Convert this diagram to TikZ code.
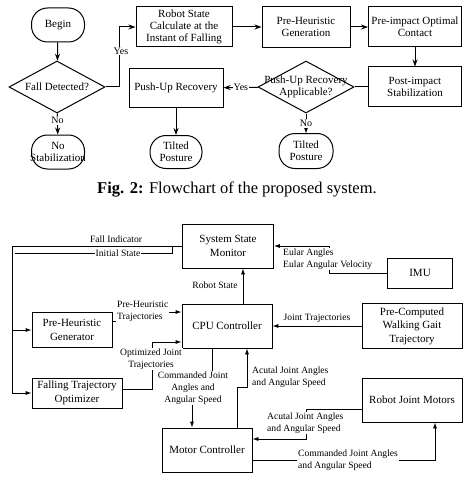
\documentclass[tikz,border=0pt]{standalone}
\usepackage{fontspec}
\setmainfont{Liberation Serif}
\usetikzlibrary{shapes.geometric,arrows.meta,positioning}

\begin{document}
\begin{tikzpicture}[x=1pt,y=-1pt,
		box/.style={draw, line width=1pt, align=center, inner sep=1pt, font=\myfontbox},
		term/.style={box, rounded corners=16pt, minimum width=53pt, minimum height=34pt},
		flowbox/.style={box, minimum width=94pt, minimum height=40pt},
		decision/.style={draw, diamond, line width=1pt, inner sep=0pt, aspect=2, minimum width=96pt, minimum height=52pt, font=\myfontbox},
		flow/.style={line width=1pt, -{Stealth[length=7pt,width=5pt]}},
		flowlbl/.style={fill=white, inner sep=1pt, font=\myfontflow},
		block/.style={draw, line width=0.8pt, align=center, inner sep=1pt, font=\myfontblock},
		sig/.style={line width=0.8pt, -{Latex[length=6pt,width=4pt]}},
		lbl/.style={fill=white, inner sep=1pt, align=center, font=\myfontlabel},
		]
		\newcommand{\myfontbox}{\fontsize{11}{12}\selectfont}
		\newcommand{\myfontflow}{\fontsize{10}{12}\selectfont}
		\newcommand{\myfontblock}{\fontsize{11}{13.5}\selectfont}
		\newcommand{\myfontlabel}{\fontsize{9.6}{11.8}\selectfont}
		\useasboundingbox (0,0) rectangle (475,484);
		%Flowchart
		\node[term] (begin) at (58,25) {Begin};
		\node[decision] (fall) at (57,87) {Fall Detected?};
		\node[term, inner xsep=-3pt] (nostab) at (58,152) {No\\Stabilization};
		\node[flowbox, minimum width=96pt] (robot) at (184,27) {Robot State\\Calculate at the\\Instant of Falling};
		\node[flowbox, minimum width=88pt, minimum height=41pt] (preh) at (306,27) {Pre-Heuristic\\Generation};
		\node[flowbox, minimum width=93pt] (preimp) at (415,27) {Pre-impact Optimal\\Contact};
		\node[flowbox, minimum width=93pt] (post) at (415,87) {Post-impact\\Stabilization};
		\node[decision] (pushq) at (306,87) {};
		\node[inner sep=0pt, align=center, font=\myfontbox] (pushqtxt) at (pushq) {Push-Up Recovery\\Applicable?};
		\node[flowbox, minimum height=39pt] (pushup) at (176,88) {Push-Up Recovery};
		\node[term, minimum width=52pt, minimum height=33pt] (tilt1) at (176,152) {Tilted\\Posture};
		\node[term, minimum width=54pt, minimum height=35pt] (tilt2) at (306,151) {Tilted\\Posture};
		%Flowchart arrows
		\coordinate (yesbend) at (119,87);
		\draw[flow] (begin) -- (fall);
		\draw[flow] (fall.east) -- (yesbend) |- (robot.west);
		\node[flowlbl] (yes1) at (121,51) {Yes};
		\draw[flow] (fall) -- node[flowlbl, pos=0.35] (no1) {No} (nostab);
		\draw[flow] (robot) -- (preh);
		\draw[flow] (preh) -- (preimp);
		\draw[flow] (preimp) -- (post);
		\draw[line width=1pt] (post) -- (pushq);
		\draw[flow] (pushq) -- node[flowlbl] (yes2) {Yes} (pushup);
		\draw[flow] (pushup) -- (tilt1);
		\draw[flow] (pushq) -- node[flowlbl] (no2) {No} (tilt2);
		%Caption
		\node[font=\fontsize{16.5}{20}\selectfont] (caption) at (237,190) {\textbf{Fig. 2:} Flowchart of the proposed system.};
		%System blocks
		\node[block, minimum width=91pt, minimum height=44pt] (ssm) at (228,246) {System State\\Monitor};
		\node[block, minimum width=65pt, minimum height=30pt] (imu) at (420,273) {IMU};
		\node[block, minimum width=90pt, minimum height=44pt] (cpu) at (227,326) {CPU Controller};
		\node[block, minimum width=100pt, minimum height=45pt] (pcw) at (412,326) {Pre-Computed\\Walking Gait\\Trajectory};
		\node[block, minimum width=100pt, minimum height=44pt] (rjm) at (412,400) {Robot Joint Motors};
		\node[block, minimum width=90pt, minimum height=44pt] (mc) at (207,450) {Motor Controller};
		\node[block, minimum width=80pt, minimum height=35pt] (phg) at (72,330) {Pre-Heuristic\\Generator};
		\node[block, minimum width=90pt, minimum height=30pt] (fto) at (77,393) {Falling Trajectory\\Optimizer};
		%Fall indicator and initial state
		\coordinate (bus) at (12,246);
		\coordinate (initR) at (172,246);
		\coordinate (initL) at (15,253);
		\draw[sig] (ssm.west) -- (bus) |- (fto.west);
		\draw[sig] (bus |- phg.west) -- (phg.west);
		\draw[line width=0.8pt] (initR) |- (initL);
		\node[font=\myfontlabel] (fallind) at (116,239) {Fall Indicator};
		\node[lbl] (initst) at (118,253) {Initial State};
		%IMU
		\coordinate (eular) at (329,273);
		\draw[sig] (imu.west) -- (eular) |- (ssm.east);
		\node[lbl, align=left, anchor=west] (eularlbl) at (282,259) {Eular Angles\\Eular Angular Velocity};
		%Robot state
		\draw[sig] ([xshift=16pt]cpu.north) -- ([xshift=16pt]cpu.north |- ssm.south);
		\node[font=\myfontlabel] (robstate) at (215,285) {Robot State};
		%Walking gait
		\draw[sig] (pcw) -- node[above, font=\myfontlabel] (jtraj) {Joint Trajectories} (cpu);
		%Pre-heuristic trajectories
		\draw[sig] ([yshift=9pt]phg.east) -- ++(5,0) |- ([yshift=14pt]cpu.west);
		\node[lbl, align=left, anchor=west] (phtraj) at (116,311) {Pre-Heuristic\\Trajectories};
		%Optimized joint trajectories
		\draw[sig] ([yshift=4pt]fto.east) -- ++(30,0) |- ([yshift=-16pt]cpu.west);
		\node[lbl] (opttraj) at (151,359) {Optimized Joint\\Trajectories};
		%Commanded joint angles to motor controller
		\draw[sig] ([xshift=-15pt]cpu.south) -- ++(0,32) -| ([xshift=-15pt]mc.north);
		\node[lbl] (cmdlbl) at (193,388) {Commanded Joint\\Angles and\\Angular Speed};
		%Actual joint angles to CPU
		\draw[sig] ([xshift=30pt]mc.north) -- ++(0,-40) -| ([xshift=20pt]cpu.south);
		\node[align=left, anchor=west, font=\myfontlabel, inner sep=1pt] (actlbl) at (251,377) {Acutal Joint Angles\\and Angular Speed};
		%Robot joint motors
		\draw[sig] ([yshift=-9pt]rjm.west) -- ++(-55,0) |- ([yshift=11pt]mc.east);
		\node[lbl, align=left, anchor=west] (actlbl2) at (266,423) {Acutal Joint Angles\\and Angular Speed};
		\draw[sig] ([yshift=-10pt]mc.east) -| ([xshift=23pt]rjm.south);
		\node[lbl, align=left, anchor=west] (cmdlbl2) at (297,460) {Commanded Joint Angles\\and Angular Speed};
\end{tikzpicture}
\end{document}
